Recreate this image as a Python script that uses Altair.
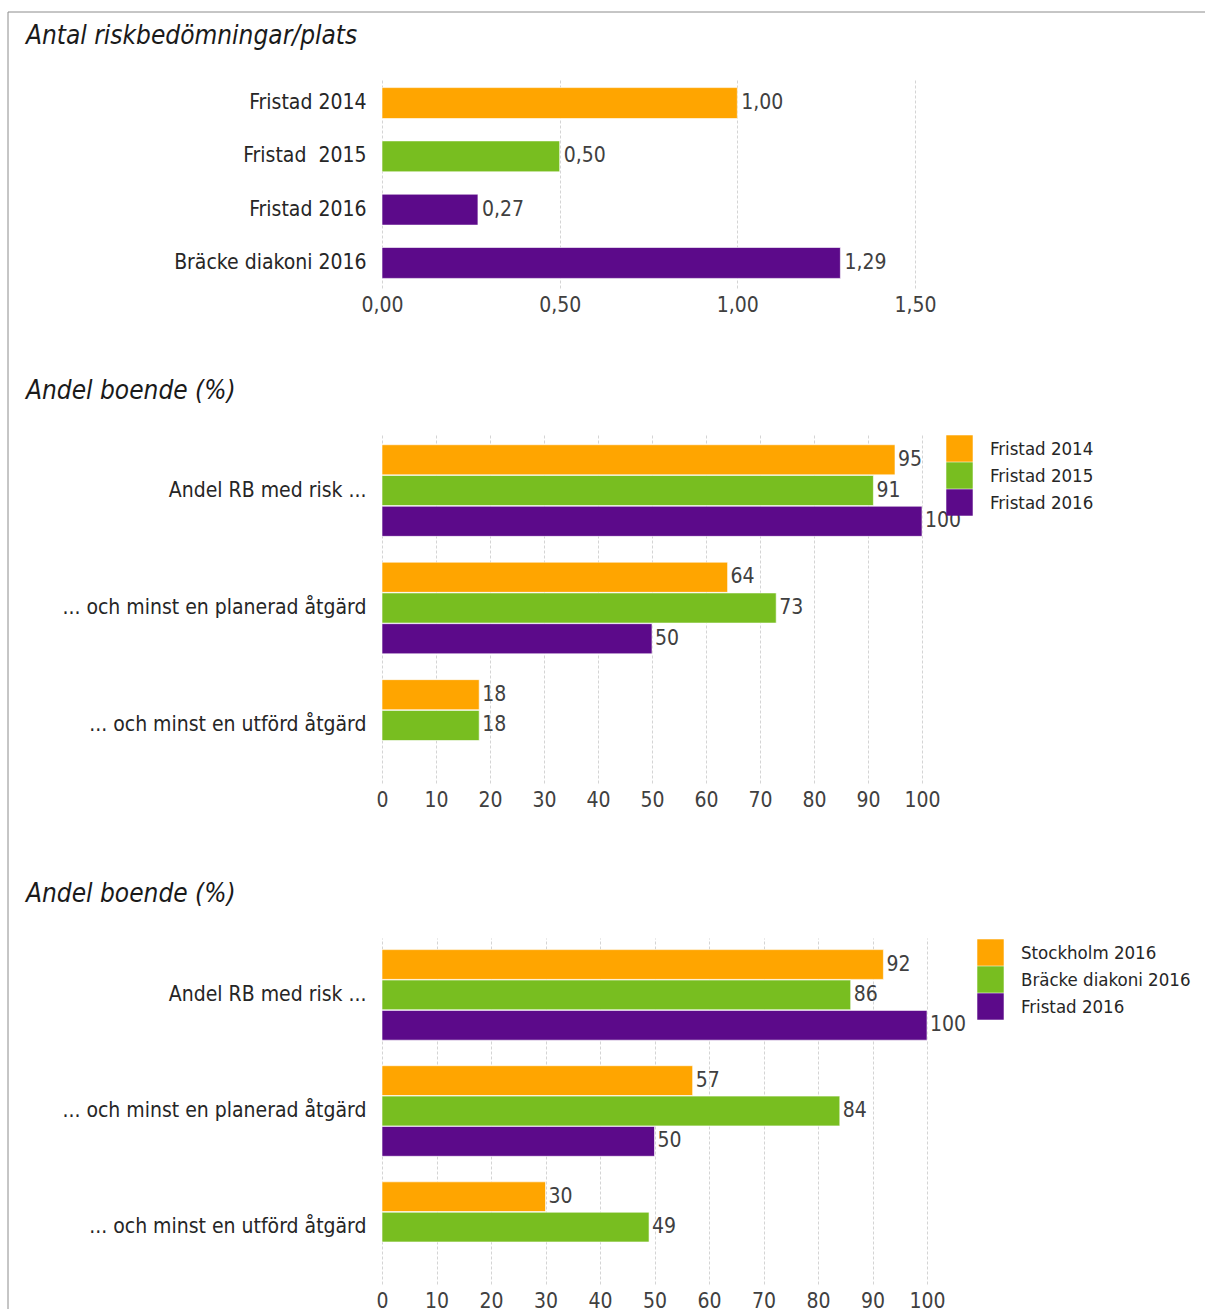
import altair as alt
import pandas as pd

FONT = "DejaVu Sans Condensed, Liberation Sans, sans-serif"
TEXT_DARK = "#262626"
TEXT_GREY = "#404040"
BORDER = "#8c8c8c"
GRID = "#d4d4d4"

ORANGE = "#FFA500"
GREEN = "#78BE20"
PURPLE = "#5C0A8A"

# ---- Antal riskbedömningar/plats ----
p1_places = ["Fristad 2014", "Fristad\u00a0 2015", "Fristad 2016", "Bräcke diakoni 2016"]
p1_values = [1.00, 0.50, 0.27, 1.29]
p1_colors = [ORANGE, GREEN, PURPLE, PURPLE]
p1_ticks = [0, 0.5, 1.0, 1.5]

# ---- Andel boende (%) ----
measures = [
    "Andel RB med risk ...",
    "... och minst en planerad åtgärd",
    "... och minst en utförd åtgärd",
]
pct_ticks = list(range(0, 101, 10))

p2_series = ["Fristad 2014", "Fristad 2015", "Fristad 2016"]
p2_fristad_2014 = [95, 64, 18]
p2_fristad_2015 = [91, 73, 18]
p2_fristad_2016 = [100, 50, None]

p3_series = ["Stockholm 2016", "Bräcke diakoni 2016", "Fristad 2016"]
p3_stockholm_2016 = [92, 57, 30]
p3_bracke_2016 = [86, 84, 49]
p3_fristad_2016 = [100, 50, None]

series_colors = [ORANGE, GREEN, PURPLE]


def long_table(series, columns):
    rows = []
    for name, vals in zip(series, columns):
        for m, v in zip(measures, vals):
            if v is not None:
                rows.append({"matt": m, "serie": name, "andel": v})
    return pd.DataFrame(rows)


one = pd.DataFrame({"k": [0]})


def frame_and_title(title, title_y, top, bottom, top_line=False):
    """Grey outer border segment and the italic panel heading."""
    base = alt.Chart(one)
    layers = [
        base.mark_rule(color=BORDER, strokeWidth=1).encode(
            x=alt.value(-374), y=alt.value(top), y2=alt.value(bottom)
        ),
        base.mark_text(
            text=title, align="left", baseline="alphabetic", font=FONT,
            fontSize=26, fontStyle="italic", color="#1a1a1a"
        ).encode(x=alt.value(-356), y=alt.value(title_y)),
    ]
    if top_line:
        layers.append(
            base.mark_rule(color=BORDER, strokeWidth=1).encode(
                x=alt.value(-374), x2=alt.value(823), y=alt.value(top)
            )
        )
    return layers


x_axis_common = dict(
    grid=True, gridDash=[3, 2], gridColor=GRID, gridWidth=1,
    domain=False, ticks=False, labelPadding=6, labelFont=FONT,
    labelFontSize=21, labelColor=TEXT_GREY, title=None,
    labelFlush=False, labelOverlap=False,
)
y_axis_common = dict(
    domain=False, ticks=False, grid=False, labelPadding=16, labelFont=FONT,
    labelFontSize=21, labelColor=TEXT_DARK, labelLimit=500, title=None,
)

# ---------------- panel 1 ----------------
df1 = pd.DataFrame({"plats": p1_places, "antal": p1_values, "farg": p1_colors})
y1 = alt.Y("plats:N", sort=p1_places,
           scale=alt.Scale(paddingInner=0.42, paddingOuter=0.18),
           axis=alt.Axis(**y_axis_common))
x1 = alt.X("antal:Q", scale=alt.Scale(domain=[0, 1.5], nice=False, zero=True),
           axis=alt.Axis(values=p1_ticks,
                         labelExpr="replace(format(datum.value, '.2f'), '.', ',')",
                         **x_axis_common))
base1 = alt.Chart(df1)
bars1 = base1.mark_bar(stroke="white", strokeWidth=0.6).encode(
    y=y1, x=x1, color=alt.Color("farg:N", scale=None)
)
text1 = base1.transform_calculate(
    etikett="replace(format(datum.antal, '.2f'), '.', ',')"
).mark_text(align="left", baseline="middle", dx=4, font=FONT, fontSize=21,
            color=TEXT_GREY).encode(y=y1, x=x1, text="etikett:N")

panel1 = alt.layer(
    bars1, text1,
    *frame_and_title("Antal riskbedömningar/plats", -34, -66, 273, top_line=True)
).properties(width=533, height=210)


# ---------------- panels 2 and 3 ----------------
def grouped_panel(df, series, width, height, legend_x, legend_y, title, title_y,
                  top, bottom):
    y = alt.Y("matt:N", sort=measures,
              scale=alt.Scale(paddingInner=0.22, paddingOuter=0.1),
              axis=alt.Axis(**y_axis_common))
    yo = alt.YOffset("serie:N", sort=series,
                     scale=alt.Scale(domain=series, paddingInner=0.02))
    x = alt.X("andel:Q", scale=alt.Scale(domain=[0, 100], nice=False),
              axis=alt.Axis(values=pct_ticks, format="d", **x_axis_common))
    color = alt.Color(
        "serie:N", sort=series,
        scale=alt.Scale(domain=series, range=series_colors),
        legend=alt.Legend(
            orient="none", legendX=legend_x, legendY=legend_y, title=None,
            symbolType="square", symbolSize=700, symbolStrokeWidth=0,
            symbolOpacity=1, labelFont=FONT, labelFontSize=18.5,
            labelColor=TEXT_DARK, labelOffset=17, rowPadding=0, padding=0,
            labelLimit=400,
        ),
    )
    base = alt.Chart(df)
    bars = base.mark_bar(stroke="white", strokeWidth=0.6).encode(
        y=y, yOffset=yo, x=x, color=color
    )
    labels = base.mark_text(
        align="left", baseline="middle", dx=3, font=FONT, fontSize=21,
        color=TEXT_GREY
    ).encode(y=y, yOffset=yo, x=x, text=alt.Text("andel:Q", format="d"))
    return alt.layer(
        bars, labels, *frame_and_title(title, title_y, top, bottom)
    ).properties(width=width, height=height)


df2 = long_table(p2_series, [p2_fristad_2014, p2_fristad_2015, p2_fristad_2016])
df3 = long_table(p3_series, [p3_stockholm_2016, p3_bracke_2016, p3_fristad_2016])

panel2 = grouped_panel(df2, p2_series, 540, 350, 564, 2,
                       "Andel boende (%)", -34, -82, 417)
panel3 = grouped_panel(df3, p3_series, 545, 346, 595, 1,
                       "Andel boende (%)", -36, -88, 371)

chart = alt.vconcat(panel1, panel2, panel3, spacing=-2).resolve_scale(
    color="independent", x="independent", y="independent", yOffset="independent"
).resolve_legend(color="independent").properties(
    padding={"left": 7, "top": 11, "right": 0, "bottom": 0},
    background="white",
).configure_view(stroke=None)

chart.save("out.html", embed_options={"renderer": "svg", "actions": False})
